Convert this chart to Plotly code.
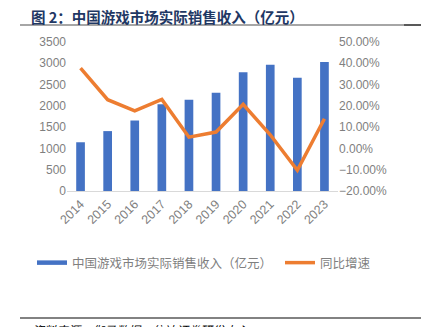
import plotly.graph_objects as go

years = ["2014", "2015", "2016", "2017", "2018", "2019", "2020", "2021", "2022", "2023"]
revenue = [1144.8, 1407.0, 1655.7, 2036.1, 2144.4, 2308.8, 2786.9, 2965.1, 2658.8, 3029.6]
growth = [37.7, 22.9, 17.7, 23.0, 5.3, 7.7, 20.7, 6.4, -10.3, 13.95]

bar_name = "中国游戏市场实际销售收入（亿元）"
line_name = "同比增速"
title = "图 2：中国游戏市场实际销售收入（亿元）"
source = "资料来源：伽马数据，信达证券研发中心"

W, H = 421, 327
L, R, T, B = 67, 83, 42, 136
pw, ph = W - L - R, H - T - B

def px(x):
    return (x - L) / pw

def py(y):
    return (H - B - y) / ph

cjk = "Noto Sans CJK SC"
tickfont = dict(family="Liberation Sans, Arial", size=12, color="#7f7f7f")
legfont = dict(family=cjk, size=12.5, color="#7f7f7f")

fig = go.Figure()
fig.add_trace(go.Bar(x=years, y=revenue, name=bar_name, marker_color="#4472C4",
                     marker_line_width=0, yaxis="y", showlegend=False))
fig.add_trace(go.Scatter(x=years, y=growth, name=line_name, mode="lines",
                         line=dict(color="#ED7D31", width=3.5), yaxis="y2",
                         legend="legend2"))
# legend entry for the bars drawn as a wide flat swatch like the reference
fig.add_trace(go.Scatter(x=[None], y=[None], name=bar_name, mode="lines",
                         line=dict(color="#4472C4", width=4.5), legend="legend",
                         hoverinfo="skip"))

fig.update_layout(
    width=W, height=H,
    margin=dict(l=L, r=R, t=T, b=B),
    paper_bgcolor="white", plot_bgcolor="white",
    bargap=0.68,
    showlegend=True,
    legend=dict(orientation="h", x=px(32), y=py(263), xanchor="left", yanchor="middle",
                font=legfont, bgcolor="rgba(0,0,0,0)", borderwidth=0),
    legend2=dict(orientation="h", x=px(280), y=py(263), xanchor="left", yanchor="middle",
                 font=legfont, bgcolor="rgba(0,0,0,0)", borderwidth=0),
    xaxis=dict(type="category", tickangle=-45,
               tickfont=dict(family="Liberation Sans, Arial", size=12.5, color="#7f7f7f"),
               showgrid=False, showline=True, linecolor="#d9d9d9", linewidth=1, ticks=""),
    yaxis=dict(range=[0, 3500], dtick=500, tickfont=tickfont, showgrid=False,
               zeroline=False, showline=False, ticks=""),
    yaxis2=dict(range=[-20, 50], dtick=10, overlaying="y", side="right",
                tickformat=".2f", ticksuffix="%", tickfont=tickfont, showgrid=False,
                zeroline=False, showline=False, ticks=""),
    shapes=[
        dict(type="line", xref="paper", yref="paper", x0=px(20), x1=px(404), y0=py(25), y1=py(25),
             line=dict(color="#a6a6a6", width=2)),
        dict(type="line", xref="paper", yref="paper", x0=px(404), x1=px(421), y0=py(25), y1=py(25),
             line=dict(color="#595959", width=2)),
        dict(type="line", xref="paper", yref="paper", x0=px(20), x1=px(421), y0=py(318), y1=py(318),
             line=dict(color="#595959", width=1.5)),
    ],
    annotations=[
        dict(text="<b>" + title + "</b>", xref="paper", yref="paper", x=px(29), y=py(16),
             xanchor="left", yanchor="middle", showarrow=False,
             font=dict(family=cjk, size=14.5, color="#1F3864")),
        dict(text="<i>" + source + "</i>", xref="paper", yref="paper", x=px(30), y=py(319),
             xanchor="left", yanchor="top", showarrow=False,
             font=dict(family=cjk, size=12, color="#000000")),
    ],
)

fig.write_html("out.html")
